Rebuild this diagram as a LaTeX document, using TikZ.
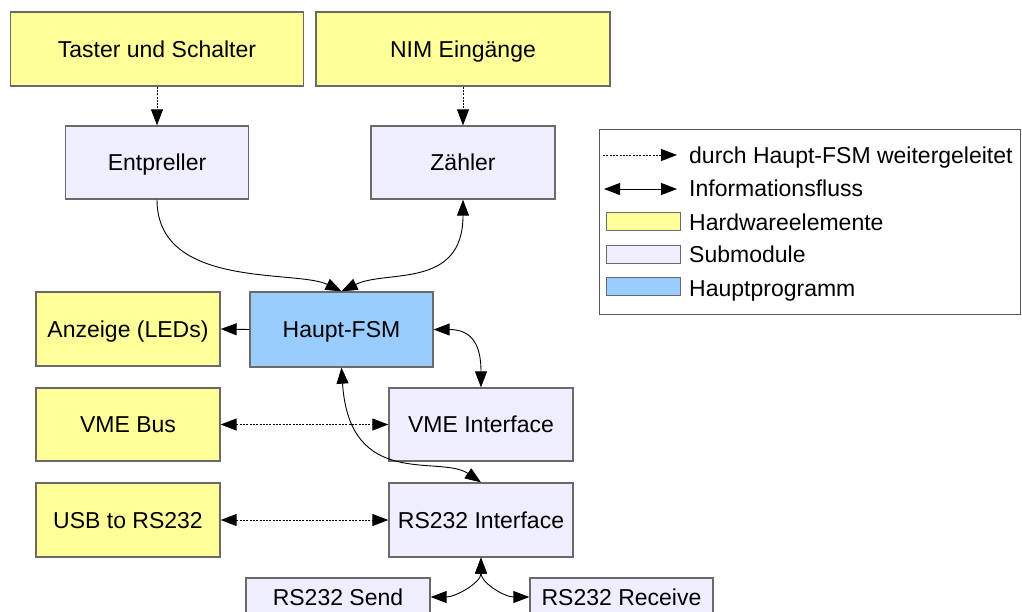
\documentclass[tikz,border=0pt]{standalone}
\usepackage{fontspec}
\setmainfont{Liberation Sans}
\usetikzlibrary{arrows.meta}
\definecolor{hwcol}{HTML}{FFFF99}
\definecolor{subcol}{HTML}{EEEEFF}
\definecolor{maincol}{HTML}{99CCFF}
\definecolor{bordcol}{HTML}{6A6A6A}
\begin{document}
\begin{tikzpicture}[x=1pt,y=-1pt,
  box/.style={draw=bordcol, line width=1.3pt, inner sep=0pt,
    font=\fontsize{23}{27}\selectfont, text height=16.5pt, text depth=0pt},
  hwbox/.style={box, fill=hwcol},
  subbox/.style={box, fill=subcol},
  mainbox/.style={box, fill=maincol},
  lbl/.style={inner sep=0pt, font=\fontsize{23}{27}\selectfont},
  tipend/.style={line width=0.9pt, -{Triangle[length=16pt,width=12pt]}},
  flow/.style={line width=0.9pt, {Triangle[length=16pt,width=12pt]}-{Triangle[length=16pt,width=12pt]}},
  fwd/.style={line width=0.9pt, dash pattern=on 2pt off 1.3pt, -{Triangle[length=16pt,width=12pt]}},
  fwdboth/.style={line width=0.9pt, dash pattern=on 2pt off 1.3pt, {Triangle[length=16pt,width=12pt]}-{Triangle[length=16pt,width=12pt]}}
]
\useasboundingbox (0,0) rectangle (1022,611);

% boxes
\node[hwbox, minimum width=293pt, minimum height=74pt] (taster) at (157,49) {Taster und Schalter};
\node[hwbox, minimum width=294pt, minimum height=74pt] (nim) at (463,49) {NIM Eingänge};
\node[subbox, minimum width=183pt, minimum height=73pt] (ent) at (157,162.5) {Entpreller};
\node[subbox, minimum width=184pt, minimum height=73pt] (zaehler) at (463,162.5) {Zähler};
\node[mainbox, minimum width=183pt, minimum height=75pt] (haupt) at (341.5,329.5) {Haupt-FSM};
\node[hwbox, minimum width=184pt, minimum height=74pt] (anz) at (128,329) {Anzeige (LEDs)};
\node[hwbox, minimum width=184pt, minimum height=73pt] (vmebus) at (128,424.5) {VME Bus};
\node[subbox, minimum width=184pt, minimum height=73pt] (vmeif) at (481,424.5) {VME Interface};
\node[hwbox, minimum width=184pt, minimum height=74pt] (usb) at (128,520) {USB to RS232};
\node[subbox, minimum width=184pt, minimum height=74pt] (rsif) at (481,520) {RS232 Interface};
\node[subbox, minimum width=184pt, minimum height=38pt] (send) at (338,597) {RS232 Send};
\node[subbox, minimum width=183pt, minimum height=38pt] (recv) at (621.5,597) {RS232 Receive};

% connectors
\draw[fwd] (taster.south) -- (ent.north);
\draw[fwd] (nim.south) -- (zaehler.north);
\draw[tipend] (ent.south) .. controls +(0,90) and +(-45,-22) .. (haupt.north);
\draw[flow] (zaehler.south) .. controls +(0,90) and +(45,-22) .. (haupt.north);
\draw[tipend] (haupt.west) -- (anz.east);
\draw[flow] (haupt.east) .. controls +(40,0) and +(0,-40) .. (vmeif.north);
\draw[fwdboth] (vmebus.east) -- (vmeif.west);
\draw[flow] (haupt.south) .. controls +(8,123) and +(-41,-28) .. (rsif.north);
\draw[fwdboth] (usb.east) -- (rsif.west);
\draw[flow] (rsif.south) .. controls +(0,25) and +(25,0) .. (send.east);
\draw[flow] (rsif.south) .. controls +(0,25) and +(-25,0) .. (recv.west);

% legend
\node[draw=bordcol!80!black, line width=1pt, inner sep=0pt, minimum width=421pt, minimum height=185pt] (legend) at (809.5,221.5) {};
\coordinate (l1a) at (603,155);
\coordinate (l1b) at (677,155);
\draw[fwd] (l1a) -- (l1b);
\coordinate (l2a) at (604,189);
\coordinate (l2b) at (677,189);
\draw[flow] (l2a) -- (l2b);
\node[hwbox, line width=1pt, minimum width=74pt, minimum height=18pt] (lhw) at (643,221) {};
\node[subbox, line width=1pt, minimum width=74pt, minimum height=18pt] (lsub) at (643,254) {};
\node[mainbox, line width=1pt, minimum width=74pt, minimum height=18pt] (lmain) at (643,286) {};
\node[lbl, anchor=base west] (t1) at (689,163) {durch Haupt-FSM weitergeleitet};
\node[lbl, anchor=base west] (t2) at (689,196) {Informationsfluss};
\node[lbl, anchor=base west] (t3) at (689,230) {Hardwareelemente};
\node[lbl, anchor=base west] (t4) at (689,262) {Submodule};
\node[lbl, anchor=base west] (t5) at (689,296) {Hauptprogramm};
\end{tikzpicture}
\end{document}
